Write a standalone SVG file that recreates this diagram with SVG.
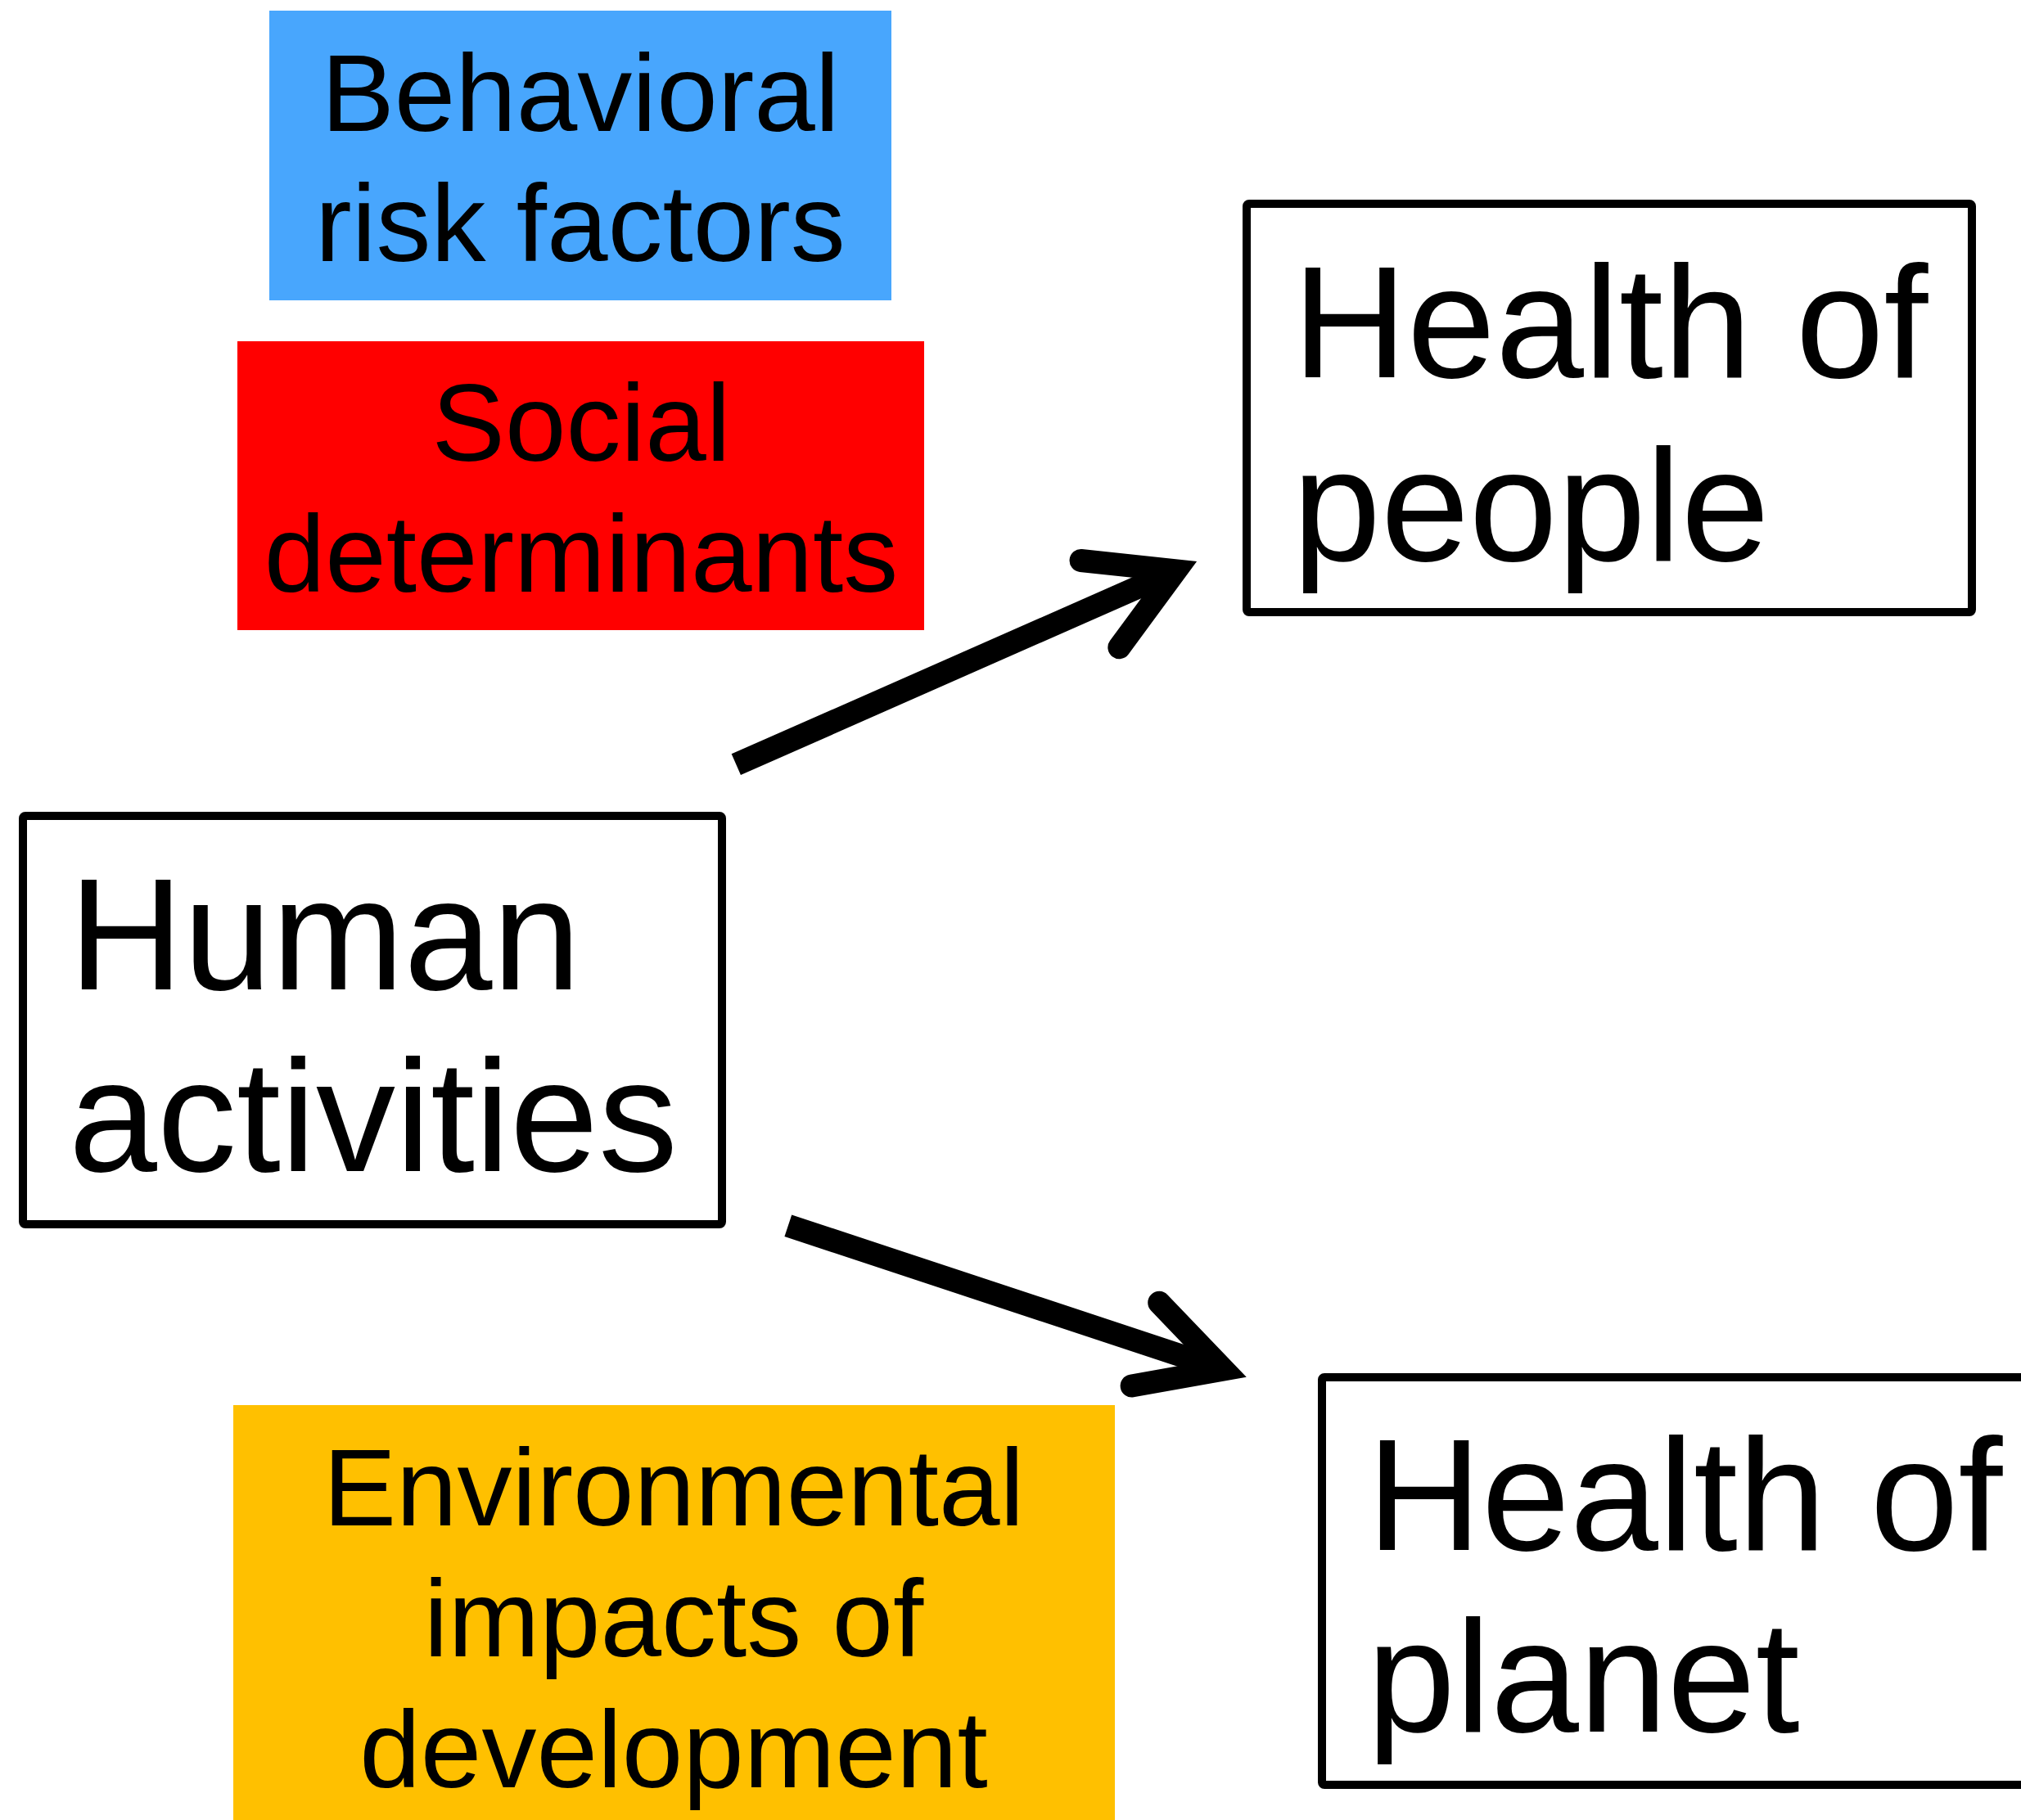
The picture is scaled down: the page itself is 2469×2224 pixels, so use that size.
<svg xmlns="http://www.w3.org/2000/svg" width="2469" height="2224" viewBox="0 0 2469 2224">
<style>
.box{fill:#fff;stroke:#000;stroke-width:10;}
.big{font-family:"Liberation Sans",Arial,sans-serif;font-size:194px;fill:#000;}
.small{font-family:"Liberation Sans",Arial,sans-serif;font-size:134px;fill:#000;text-anchor:middle;}
.shaft{fill:none;stroke:#000;stroke-width:28;stroke-linecap:butt;}
.head{fill:none;stroke:#000;stroke-width:28;stroke-linecap:round;stroke-linejoin:miter;stroke-miterlimit:10;}
</style>
<rect width="2469" height="2224" fill="#fff"/>
<g id="behavioral">
<rect x="329" y="13" width="760" height="354" fill="#48A6FD"/>
<text class="small" x="709" y="160">Behavioral</text>
<text class="small" x="709" y="319">risk factors</text>
</g>
<g id="social">
<rect x="290" y="417" width="839" height="353" fill="#FF0000"/>
<text class="small" x="710" y="563">Social</text>
<text class="small" x="710" y="723">determinants</text>
</g>
<g id="environmental">
<rect x="285" y="1717" width="1077" height="520" fill="#FFC000"/>
<text class="small" x="823" y="1864">Environmental</text>
<text class="small" x="823" y="2024">impacts of</text>
<text class="small" x="823" y="2184">development</text>
</g>
<g id="human">
<rect class="box" x="28" y="997" width="854" height="499" rx="3"/>
<text class="big" x="84" y="1209">Human</text>
<text class="big" x="84" y="1431">activities</text>
</g>
<g id="people">
<rect class="box" x="1523" y="249" width="886" height="499" rx="3"/>
<text class="big" x="1579" y="461">Health of</text>
<text class="big" x="1579" y="685">people</text>
</g>
<g id="planet">
<rect class="box" x="1615" y="1683" width="880" height="498" rx="3"/>
<text class="big" x="1670" y="1894">Health of</text>
<text class="big" x="1670" y="2116">planet</text>
</g>
<g id="connectors">
<g transform="translate(1462,686) rotate(-23.8)">
<line class="shaft" x1="-615" y1="0" x2="-30" y2="0"/>
<polyline class="head" points="-129,-58 -28,0 -129,58"/>
</g>
<g transform="translate(1523,1683) rotate(18.3)">
<line class="shaft" x1="-590" y1="0" x2="-32" y2="0"/>
<polyline class="head" points="-130,-53 -30,0 -130,54"/>
</g>
</g>
</svg>
